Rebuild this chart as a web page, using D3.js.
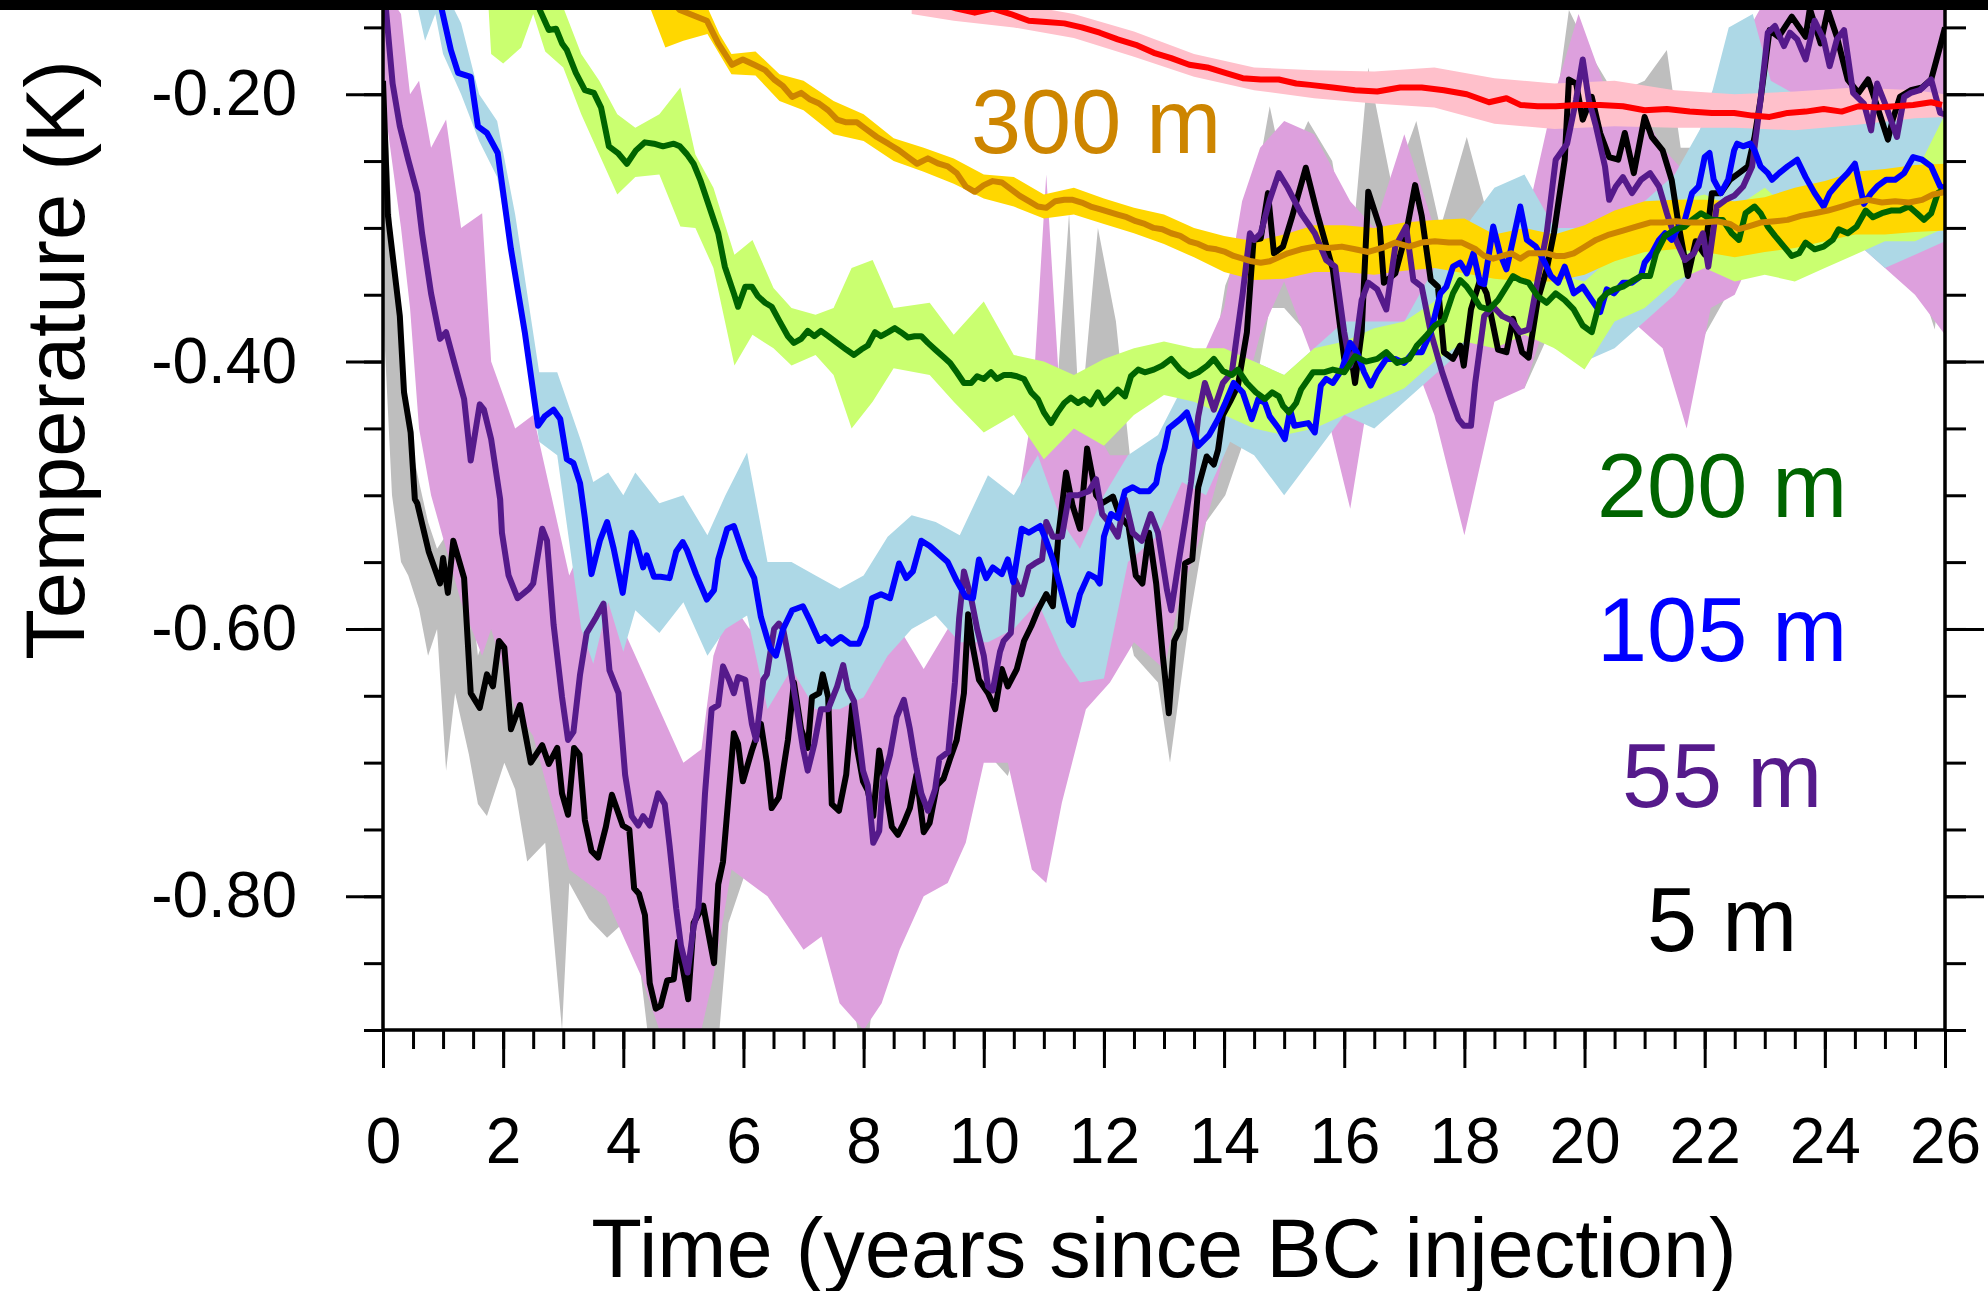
<!DOCTYPE html>
<html>
<head>
<meta charset="utf-8">
<script src="https://cdn.jsdelivr.net/npm/d3@7"></script>
<style>
body { margin: 0; background: #fff; }
svg text { font-family: "Liberation Sans", Arial, Helvetica, sans-serif; }
</style>
</head>
<body>
<div id="plot1"></div>
<script>
// depth labels
var depths = ["5 m", "55 m", "105 m", "200 m", "300 m"];

// ensemble mean lines, [years, K]
var line5m = [[0,-0.19],[0.04,-0.24],[0.08,-0.29],[0.28,-0.366],[0.35,-0.423],[0.46,-0.453],[0.53,-0.503],[0.57,-0.506],[0.76,-0.542],[0.95,-0.566],[1.0,-0.547],[1.08,-0.573],[1.17,-0.534],[1.35,-0.562],[1.46,-0.648],[1.61,-0.659],[1.73,-0.634],[1.83,-0.643],[1.93,-0.609],[2.02,-0.614],[2.13,-0.675],[2.28,-0.657],[2.46,-0.70],[2.65,-0.687],[2.76,-0.701],[2.9,-0.689],[2.98,-0.723],[3.08,-0.739],[3.18,-0.689],[3.27,-0.694],[3.36,-0.743],[3.47,-0.766],[3.58,-0.771],[3.71,-0.748],[3.81,-0.724],[3.99,-0.747],[4.1,-0.75],[4.18,-0.794],[4.26,-0.798],[4.36,-0.814],[4.44,-0.865],[4.54,-0.884],[4.62,-0.882],[4.73,-0.863],[4.84,-0.862],[4.91,-0.834],[4.99,-0.854],[5.08,-0.877],[5.17,-0.82],[5.33,-0.807],[5.51,-0.85],[5.58,-0.791],[5.66,-0.774],[5.84,-0.678],[5.91,-0.686],[5.99,-0.714],[6.14,-0.691],[6.29,-0.671],[6.39,-0.70],[6.47,-0.734],[6.59,-0.726],[6.74,-0.683],[6.84,-0.64],[6.96,-0.675],[7.07,-0.689],[7.14,-0.651],[7.26,-0.648],[7.32,-0.634],[7.41,-0.651],[7.47,-0.731],[7.59,-0.736],[7.71,-0.709],[7.81,-0.657],[7.89,-0.689],[7.99,-0.714],[8.07,-0.721],[8.16,-0.74],[8.26,-0.691],[8.37,-0.72],[8.47,-0.748],[8.57,-0.754],[8.67,-0.745],[8.77,-0.734],[8.88,-0.709],[9.0,-0.752],[9.1,-0.745],[9.22,-0.717],[9.33,-0.712],[9.44,-0.697],[9.55,-0.683],[9.67,-0.648],[9.74,-0.589],[9.82,-0.614],[9.92,-0.638],[10.07,-0.648],[10.19,-0.66],[10.3,-0.63],[10.4,-0.643],[10.55,-0.63],[10.67,-0.609],[10.79,-0.598],[10.9,-0.586],[11.04,-0.574],[11.15,-0.583],[11.24,-0.531],[11.37,-0.483],[11.48,-0.508],[11.6,-0.525],[11.72,-0.465],[11.87,-0.5],[11.97,-0.506],[12.15,-0.501],[12.26,-0.515],[12.41,-0.523],[12.53,-0.56],[12.64,-0.566],[12.75,-0.528],[12.87,-0.566],[12.98,-0.62],[13.08,-0.663],[13.17,-0.609],[13.27,-0.60],[13.35,-0.551],[13.47,-0.548],[13.57,-0.494],[13.71,-0.471],[13.83,-0.477],[13.9,-0.466],[13.98,-0.44],[14.1,-0.43],[14.23,-0.418],[14.38,-0.378],[14.49,-0.309],[14.61,-0.308],[14.73,-0.274],[14.83,-0.319],[14.98,-0.314],[15.13,-0.292],[15.36,-0.255],[15.55,-0.289],[15.81,-0.331],[16.0,-0.398],[16.1,-0.391],[16.18,-0.416],[16.29,-0.378],[16.4,-0.273],[16.59,-0.299],[16.66,-0.341],[16.85,-0.334],[17.03,-0.304],[17.18,-0.268],[17.29,-0.291],[17.44,-0.339],[17.56,-0.344],[17.66,-0.393],[17.81,-0.398],[17.93,-0.388],[17.99,-0.403],[18.11,-0.361],[18.26,-0.339],[18.37,-0.349],[18.56,-0.391],[18.7,-0.393],[18.81,-0.368],[18.96,-0.393],[19.07,-0.397],[19.22,-0.354],[19.37,-0.331],[19.49,-0.304],[19.67,-0.249],[19.74,-0.189],[19.86,-0.192],[19.97,-0.219],[20.12,-0.202],[20.26,-0.229],[20.41,-0.247],[20.56,-0.249],[20.67,-0.229],[20.82,-0.259],[21.0,-0.217],[21.12,-0.232],[21.3,-0.242],[21.45,-0.264],[21.57,-0.299],[21.72,-0.336],[21.85,-0.31],[22.0,-0.32],[22.12,-0.274],[22.27,-0.274],[22.42,-0.264],[22.57,-0.259],[22.72,-0.254],[22.83,-0.232],[22.93,-0.204],[23.08,-0.152],[23.23,-0.157],[23.45,-0.142],[23.68,-0.157],[23.75,-0.136],[23.93,-0.162],[24.05,-0.137],[24.2,-0.157],[24.38,-0.189],[24.56,-0.199],[24.72,-0.189],[24.87,-0.209],[25.05,-0.234],[25.13,-0.219],[25.25,-0.202],[25.43,-0.197],[25.62,-0.195],[25.77,-0.189],[25.92,-0.164],[26.0,-0.15]];

var line55m = [[0,-0.12],[0.05,-0.137],[0.16,-0.192],[0.28,-0.224],[0.42,-0.249],[0.57,-0.274],[0.65,-0.304],[0.8,-0.349],[0.95,-0.383],[1.05,-0.378],[1.2,-0.403],[1.35,-0.428],[1.46,-0.474],[1.61,-0.432],[1.68,-0.436],[1.8,-0.458],[1.95,-0.503],[1.98,-0.528],[2.09,-0.56],[2.24,-0.577],[2.43,-0.57],[2.5,-0.566],[2.65,-0.525],[2.73,-0.534],[2.84,-0.597],[2.98,-0.651],[3.08,-0.683],[3.17,-0.677],[3.28,-0.634],[3.39,-0.603],[3.55,-0.591],[3.67,-0.581],[3.77,-0.631],[3.92,-0.648],[4.03,-0.709],[4.14,-0.74],[4.25,-0.747],[4.33,-0.74],[4.44,-0.747],[4.58,-0.723],[4.69,-0.731],[4.77,-0.762],[4.88,-0.809],[4.96,-0.837],[5.07,-0.857],[5.17,-0.823],[5.25,-0.809],[5.36,-0.723],[5.47,-0.66],[5.58,-0.657],[5.66,-0.628],[5.76,-0.638],[5.84,-0.648],[5.91,-0.636],[6.03,-0.638],[6.14,-0.671],[6.21,-0.683],[6.33,-0.638],[6.39,-0.634],[6.51,-0.60],[6.59,-0.596],[6.66,-0.60],[6.77,-0.626],[6.87,-0.654],[6.99,-0.689],[7.07,-0.706],[7.18,-0.686],[7.29,-0.66],[7.41,-0.66],[7.56,-0.643],[7.66,-0.627],[7.74,-0.645],[7.84,-0.654],[7.92,-0.68],[7.99,-0.706],[8.07,-0.717],[8.16,-0.76],[8.26,-0.751],[8.32,-0.714],[8.44,-0.694],[8.55,-0.666],[8.67,-0.653],[8.77,-0.675],[8.85,-0.697],[8.96,-0.723],[9.07,-0.736],[9.19,-0.72],[9.26,-0.697],[9.41,-0.692],[9.52,-0.64],[9.59,-0.592],[9.67,-0.557],[9.79,-0.577],[9.89,-0.60],[10.0,-0.62],[10.07,-0.643],[10.15,-0.646],[10.27,-0.617],[10.33,-0.609],[10.45,-0.603],[10.52,-0.563],[10.63,-0.574],[10.75,-0.554],[10.85,-0.551],[10.97,-0.548],[11.04,-0.52],[11.15,-0.531],[11.3,-0.531],[11.42,-0.50],[11.57,-0.50],[11.75,-0.497],[11.87,-0.488],[11.97,-0.514],[12.08,-0.52],[12.23,-0.531],[12.35,-0.503],[12.48,-0.528],[12.63,-0.534],[12.78,-0.514],[12.9,-0.528],[13.05,-0.571],[13.12,-0.586],[13.23,-0.554],[13.35,-0.52],[13.45,-0.49],[13.57,-0.441],[13.68,-0.416],[13.83,-0.436],[13.98,-0.416],[14.13,-0.408],[14.31,-0.349],[14.43,-0.304],[14.5,-0.309],[14.61,-0.304],[14.76,-0.279],[14.91,-0.259],[15.06,-0.27],[15.28,-0.289],[15.51,-0.304],[15.7,-0.324],[15.85,-0.329],[16.0,-0.378],[16.1,-0.403],[16.18,-0.391],[16.29,-0.354],[16.4,-0.341],[16.55,-0.346],[16.7,-0.361],[16.85,-0.314],[17.03,-0.299],[17.15,-0.339],[17.29,-0.344],[17.44,-0.378],[17.63,-0.408],[17.78,-0.428],[17.9,-0.443],[17.99,-0.448],[18.11,-0.448],[18.18,-0.416],[18.33,-0.366],[18.48,-0.359],[18.63,-0.366],[18.78,-0.369],[18.93,-0.378],[19.07,-0.376],[19.22,-0.339],[19.37,-0.304],[19.52,-0.249],[19.71,-0.237],[19.86,-0.204],[19.97,-0.174],[20.07,-0.204],[20.19,-0.224],[20.34,-0.254],[20.41,-0.279],[20.52,-0.269],[20.64,-0.262],[20.79,-0.274],[20.94,-0.264],[21.09,-0.259],[21.24,-0.269],[21.37,-0.289],[21.52,-0.309],[21.67,-0.324],[21.82,-0.319],[21.97,-0.304],[22.06,-0.329],[22.2,-0.284],[22.35,-0.279],[22.49,-0.276],[22.64,-0.269],[22.79,-0.254],[22.93,-0.204],[23.05,-0.154],[23.17,-0.149],[23.32,-0.164],[23.42,-0.154],[23.54,-0.159],[23.68,-0.174],[23.83,-0.145],[23.98,-0.159],[24.08,-0.179],[24.2,-0.159],[24.32,-0.152],[24.47,-0.199],[24.65,-0.207],[24.77,-0.227],[24.87,-0.192],[25.02,-0.209],[25.2,-0.232],[25.32,-0.202],[25.43,-0.199],[25.58,-0.197],[25.77,-0.189],[25.92,-0.214],[26.0,-0.215]];

var line105m = [[0.95,-0.12],[0.98,-0.137],[1.13,-0.167],[1.25,-0.184],[1.46,-0.187],[1.58,-0.224],[1.73,-0.229],[1.91,-0.244],[2.13,-0.316],[2.36,-0.378],[2.58,-0.448],[2.69,-0.441],[2.84,-0.436],[2.95,-0.443],[3.06,-0.473],[3.17,-0.476],[3.28,-0.491],[3.36,-0.517],[3.47,-0.559],[3.61,-0.534],[3.73,-0.52],[3.84,-0.54],[3.99,-0.573],[4.14,-0.528],[4.21,-0.534],[4.33,-0.554],[4.39,-0.545],[4.51,-0.561],[4.62,-0.561],[4.77,-0.562],[4.88,-0.542],[4.99,-0.535],[5.06,-0.541],[5.21,-0.559],[5.39,-0.578],[5.51,-0.571],[5.58,-0.548],[5.73,-0.525],[5.84,-0.523],[6.03,-0.548],[6.18,-0.562],[6.29,-0.591],[6.44,-0.614],[6.54,-0.62],[6.66,-0.60],[6.81,-0.586],[6.99,-0.583],[7.11,-0.594],[7.26,-0.609],[7.36,-0.606],[7.47,-0.611],[7.62,-0.606],[7.77,-0.611],[7.92,-0.611],[8.04,-0.598],[8.14,-0.577],[8.29,-0.574],[8.44,-0.577],[8.59,-0.551],[8.71,-0.562],[8.82,-0.557],[8.96,-0.534],[9.1,-0.538],[9.25,-0.544],[9.4,-0.55],[9.55,-0.564],[9.7,-0.576],[9.82,-0.577],[9.92,-0.548],[10.04,-0.562],[10.15,-0.554],[10.3,-0.559],[10.4,-0.548],[10.49,-0.565],[10.63,-0.525],[10.75,-0.528],[10.94,-0.523],[11.04,-0.534],[11.15,-0.548],[11.27,-0.568],[11.42,-0.594],[11.48,-0.597],[11.6,-0.574],[11.75,-0.559],[11.87,-0.562],[11.93,-0.566],[12.0,-0.531],[12.12,-0.514],[12.23,-0.517],[12.35,-0.497],[12.48,-0.494],[12.6,-0.497],[12.75,-0.497],[12.87,-0.491],[12.93,-0.477],[13.01,-0.465],[13.08,-0.45],[13.27,-0.443],[13.38,-0.438],[13.57,-0.463],[13.75,-0.455],[13.9,-0.443],[14.02,-0.431],[14.16,-0.416],[14.31,-0.423],[14.46,-0.443],[14.57,-0.428],[14.68,-0.431],[14.76,-0.441],[14.91,-0.45],[15.01,-0.458],[15.1,-0.436],[15.17,-0.448],[15.4,-0.446],[15.51,-0.453],[15.61,-0.418],[15.7,-0.413],[15.81,-0.416],[15.96,-0.406],[16.1,-0.386],[16.21,-0.393],[16.33,-0.408],[16.44,-0.418],[16.55,-0.408],[16.7,-0.398],[16.85,-0.398],[17.0,-0.401],[17.15,-0.393],[17.29,-0.393],[17.44,-0.378],[17.6,-0.349],[17.7,-0.344],[17.81,-0.329],[17.93,-0.326],[18.04,-0.334],[18.15,-0.319],[18.26,-0.341],[18.33,-0.342],[18.48,-0.299],[18.59,-0.319],[18.7,-0.331],[18.81,-0.309],[18.93,-0.284],[19.04,-0.309],[19.19,-0.314],[19.34,-0.326],[19.44,-0.336],[19.56,-0.341],[19.67,-0.329],[19.82,-0.349],[19.97,-0.344],[20.12,-0.354],[20.26,-0.363],[20.37,-0.346],[20.49,-0.349],[20.64,-0.341],[20.79,-0.341],[20.94,-0.336],[21.0,-0.326],[21.12,-0.319],[21.24,-0.309],[21.34,-0.304],[21.45,-0.309],[21.57,-0.299],[21.67,-0.294],[21.79,-0.274],[21.9,-0.269],[22.0,-0.247],[22.08,-0.244],[22.15,-0.264],[22.27,-0.274],[22.39,-0.264],[22.49,-0.242],[22.54,-0.237],[22.64,-0.239],[22.76,-0.237],[22.83,-0.242],[22.93,-0.254],[23.05,-0.259],[23.12,-0.264],[23.24,-0.259],[23.38,-0.254],[23.54,-0.249],[23.68,-0.262],[23.83,-0.274],[23.98,-0.284],[24.08,-0.274],[24.23,-0.266],[24.38,-0.259],[24.5,-0.252],[24.65,-0.282],[24.77,-0.274],[24.87,-0.269],[25.02,-0.264],[25.17,-0.264],[25.32,-0.259],[25.47,-0.247],[25.62,-0.249],[25.77,-0.254],[25.92,-0.269],[26.0,-0.27]];

var line200m = [[2.55,-0.12],[2.61,-0.137],[2.76,-0.152],[2.88,-0.151],[2.98,-0.162],[3.06,-0.167],[3.21,-0.184],[3.36,-0.197],[3.51,-0.199],[3.63,-0.21],[3.76,-0.239],[3.91,-0.244],[4.06,-0.252],[4.21,-0.242],[4.36,-0.236],[4.51,-0.237],[4.66,-0.239],[4.84,-0.237],[4.94,-0.239],[5.06,-0.245],[5.17,-0.252],[5.28,-0.264],[5.43,-0.284],[5.58,-0.304],[5.69,-0.329],[5.84,-0.349],[5.91,-0.359],[6.03,-0.344],[6.14,-0.344],[6.24,-0.351],[6.36,-0.356],[6.47,-0.359],[6.59,-0.369],[6.74,-0.381],[6.84,-0.386],[6.96,-0.383],[7.07,-0.377],[7.18,-0.381],[7.29,-0.377],[7.41,-0.381],[7.56,-0.386],[7.71,-0.391],[7.84,-0.395],[7.96,-0.391],[8.07,-0.388],[8.19,-0.378],[8.29,-0.381],[8.41,-0.378],[8.52,-0.375],[8.62,-0.378],[8.74,-0.382],[8.85,-0.381],[8.96,-0.381],[9.07,-0.386],[9.19,-0.391],[9.34,-0.397],[9.44,-0.401],[9.55,-0.408],[9.67,-0.416],[9.79,-0.416],[9.89,-0.411],[10.0,-0.413],[10.12,-0.408],[10.22,-0.413],[10.34,-0.41],[10.45,-0.41],[10.55,-0.411],[10.67,-0.413],[10.79,-0.423],[10.9,-0.428],[11.0,-0.438],[11.12,-0.446],[11.23,-0.438],[11.34,-0.431],[11.45,-0.427],[11.57,-0.431],[11.67,-0.428],[11.78,-0.432],[11.9,-0.423],[12.0,-0.431],[12.12,-0.426],[12.23,-0.421],[12.35,-0.426],[12.45,-0.411],[12.57,-0.406],[12.68,-0.408],[12.83,-0.406],[12.97,-0.403],[13.12,-0.398],[13.27,-0.406],[13.42,-0.411],[13.57,-0.408],[13.72,-0.403],[13.83,-0.398],[13.98,-0.407],[14.13,-0.41],[14.23,-0.406],[14.38,-0.416],[14.53,-0.423],[14.68,-0.428],[14.8,-0.423],[14.91,-0.426],[14.98,-0.433],[15.08,-0.438],[15.2,-0.431],[15.28,-0.421],[15.48,-0.408],[15.66,-0.408],[15.81,-0.406],[16.0,-0.408],[16.18,-0.396],[16.36,-0.4],[16.55,-0.398],[16.7,-0.393],[16.88,-0.401],[17.08,-0.398],[17.21,-0.388],[17.36,-0.381],[17.51,-0.373],[17.66,-0.369],[17.81,-0.349],[17.93,-0.339],[18.04,-0.344],[18.15,-0.351],[18.26,-0.359],[18.41,-0.361],[18.56,-0.354],[18.7,-0.344],[18.81,-0.336],[18.93,-0.339],[19.07,-0.341],[19.22,-0.351],[19.37,-0.356],[19.52,-0.349],[19.67,-0.354],[19.82,-0.361],[19.97,-0.373],[20.12,-0.378],[20.26,-0.354],[20.37,-0.349],[20.49,-0.346],[20.64,-0.344],[20.82,-0.339],[20.94,-0.336],[21.09,-0.336],[21.19,-0.319],[21.34,-0.306],[21.52,-0.301],[21.67,-0.299],[21.79,-0.294],[21.94,-0.289],[22.12,-0.294],[22.3,-0.294],[22.45,-0.304],[22.57,-0.309],[22.68,-0.289],[22.83,-0.284],[22.93,-0.289],[23.05,-0.299],[23.17,-0.306],[23.32,-0.314],[23.45,-0.321],[23.57,-0.319],[23.68,-0.311],[23.83,-0.316],[23.98,-0.314],[24.13,-0.309],[24.23,-0.301],[24.38,-0.304],[24.53,-0.299],[24.68,-0.287],[24.8,-0.292],[24.95,-0.289],[25.1,-0.287],[25.25,-0.287],[25.4,-0.284],[25.53,-0.289],[25.65,-0.294],[25.77,-0.289],[25.88,-0.274],[25.95,-0.272]];

var line300m = [[4.6,-0.12],[4.94,-0.137],[5.39,-0.145],[5.58,-0.162],[5.81,-0.178],[5.99,-0.174],[6.18,-0.178],[6.36,-0.182],[6.51,-0.189],[6.66,-0.194],[6.81,-0.202],[6.96,-0.199],[7.11,-0.204],[7.26,-0.207],[7.41,-0.212],[7.56,-0.219],[7.71,-0.221],[7.89,-0.221],[8.07,-0.227],[8.22,-0.232],[8.41,-0.237],[8.59,-0.242],[8.74,-0.247],[8.89,-0.252],[9.07,-0.248],[9.25,-0.252],[9.4,-0.254],[9.55,-0.259],[9.7,-0.269],[9.85,-0.273],[10.0,-0.268],[10.15,-0.265],[10.3,-0.266],[10.45,-0.271],[10.6,-0.276],[10.75,-0.28],[10.9,-0.284],[11.04,-0.285],[11.19,-0.28],[11.34,-0.279],[11.48,-0.279],[11.63,-0.281],[11.78,-0.284],[11.93,-0.286],[12.08,-0.288],[12.23,-0.29],[12.38,-0.292],[12.53,-0.295],[12.68,-0.297],[12.83,-0.30],[12.97,-0.301],[13.12,-0.304],[13.27,-0.306],[13.42,-0.31],[13.57,-0.312],[13.72,-0.315],[13.87,-0.316],[14.02,-0.318],[14.16,-0.321],[14.31,-0.323],[14.46,-0.325],[14.61,-0.326],[14.76,-0.325],[14.91,-0.322],[15.06,-0.319],[15.28,-0.316],[15.51,-0.314],[15.73,-0.315],[15.96,-0.314],[16.18,-0.316],[16.4,-0.318],[16.63,-0.315],[16.85,-0.311],[17.08,-0.314],[17.29,-0.311],[17.51,-0.31],[17.74,-0.311],[17.96,-0.311],[18.19,-0.316],[18.33,-0.321],[18.48,-0.323],[18.63,-0.321],[18.78,-0.319],[18.93,-0.323],[19.07,-0.319],[19.22,-0.319],[19.37,-0.319],[19.52,-0.321],[19.67,-0.321],[19.82,-0.319],[19.97,-0.315],[20.19,-0.309],[20.41,-0.305],[20.64,-0.302],[20.86,-0.299],[21.09,-0.296],[21.3,-0.296],[21.52,-0.295],[21.75,-0.296],[21.97,-0.296],[22.2,-0.295],[22.42,-0.297],[22.57,-0.301],[22.72,-0.299],[22.93,-0.296],[23.17,-0.295],[23.38,-0.294],[23.6,-0.291],[23.83,-0.289],[24.05,-0.287],[24.28,-0.284],[24.5,-0.281],[24.72,-0.279],[24.95,-0.281],[25.17,-0.28],[25.4,-0.281],[25.62,-0.279],[25.8,-0.275],[25.92,-0.274],[26.0,-0.273]];

var lineDeep = [[8.6,-0.12],[9.0,-0.128],[9.55,-0.136],[9.85,-0.139],[10.15,-0.136],[10.45,-0.14],[10.75,-0.145],[11.04,-0.146],[11.34,-0.147],[11.63,-0.15],[11.93,-0.154],[12.23,-0.159],[12.53,-0.163],[12.83,-0.169],[13.12,-0.173],[13.42,-0.178],[13.72,-0.18],[14.02,-0.184],[14.31,-0.188],[14.61,-0.189],[14.91,-0.189],[15.2,-0.192],[15.43,-0.193],[15.81,-0.195],[16.18,-0.197],[16.55,-0.198],[16.93,-0.195],[17.29,-0.195],[17.66,-0.197],[18.04,-0.2],[18.41,-0.206],[18.7,-0.203],[18.93,-0.208],[19.22,-0.209],[19.52,-0.209],[19.89,-0.208],[20.26,-0.208],[20.64,-0.209],[21.0,-0.212],[21.37,-0.211],[21.75,-0.213],[22.12,-0.214],[22.49,-0.214],[22.79,-0.216],[23.08,-0.217],[23.38,-0.214],[23.68,-0.213],[23.98,-0.211],[24.28,-0.213],[24.56,-0.209],[24.87,-0.21],[25.17,-0.209],[25.47,-0.208],[25.77,-0.206],[25.95,-0.208]];

// ensemble spread, [years, low K, high K]
var band5m = [[0.0,-0.36,-0.15],[0.15,-0.5,-0.3],[0.3,-0.55,-0.4],[0.42,-0.56,-0.45],[0.6,-0.585,-0.49],[0.75,-0.62,-0.52],[0.9,-0.6,-0.54],[1.05,-0.706,-0.53],[1.2,-0.648,-0.53],[1.43,-0.694,-0.56],[1.58,-0.731,-0.62],[1.73,-0.74,-0.6],[2.02,-0.7,-0.58],[2.2,-0.72,-0.62],[2.4,-0.774,-0.65],[2.7,-0.76,-0.66],[2.98,-0.9,-0.68],[3.1,-0.79,-0.68],[3.43,-0.817,-0.7],[3.73,-0.831,-0.72],[4.0,-0.82,-0.72],[4.25,-0.843,-0.76],[4.4,-0.9,-0.78],[4.6,-0.9,-0.84],[5.0,-0.9,-0.8],[5.3,-0.9,-0.78],[5.6,-0.9,-0.76],[5.75,-0.82,-0.66],[5.9,-0.8,-0.63],[6.2,-0.76,-0.6],[6.5,-0.77,-0.64],[6.8,-0.73,-0.59],[7.1,-0.76,-0.6],[7.4,-0.79,-0.6],[7.7,-0.84,-0.64],[7.9,-0.9,-0.66],[8.1,-0.9,-0.68],[8.3,-0.8,-0.66],[8.6,-0.79,-0.7],[9.0,-0.78,-0.7],[9.3,-0.76,-0.66],[9.6,-0.72,-0.6],[10.0,-0.69,-0.59],[10.4,-0.71,-0.59],[10.8,-0.65,-0.55],[11.1,-0.66,-0.5],[11.42,-0.6,-0.289],[11.6,-0.56,-0.45],[11.9,-0.55,-0.3],[12.2,-0.56,-0.37],[12.5,-0.62,-0.5],[12.9,-0.64,-0.52],[13.1,-0.7,-0.57],[13.4,-0.6,-0.5],[13.7,-0.52,-0.43],[14.02,-0.5,-0.343],[14.4,-0.45,-0.3],[14.76,-0.36,-0.209],[15.0,-0.36,-0.26],[15.4,-0.38,-0.22],[15.8,-0.39,-0.25],[16.1,-0.46,-0.33],[16.4,-0.42,-0.18],[16.8,-0.38,-0.27],[17.2,-0.36,-0.22],[17.6,-0.43,-0.3],[18.04,-0.43,-0.232],[18.5,-0.42,-0.31],[19.0,-0.42,-0.3],[19.4,-0.38,-0.25],[19.74,-0.33,-0.137],[20.1,-0.28,-0.17],[20.5,-0.3,-0.2],[21.0,-0.29,-0.19],[21.37,-0.36,-0.167],[21.6,-0.421,-0.24],[22.0,-0.38,-0.24],[22.5,-0.34,-0.19],[23.0,-0.28,-0.13],[23.5,-0.2,-0.13],[24.0,-0.22,-0.13],[24.7,-0.3,-0.13],[25.2,-0.3,-0.18],[25.5,-0.33,-0.17],[25.83,-0.376,-0.15],[26.0,-0.3,-0.14]];

var band55m = [[0.0,-0.2,-0.12],[0.3,-0.3,-0.14],[0.45,-0.36,-0.2],[0.6,-0.45,-0.19],[0.8,-0.5,-0.24],[1.05,-0.54,-0.219],[1.3,-0.58,-0.3],[1.65,-0.62,-0.289],[1.8,-0.6,-0.4],[2.2,-0.66,-0.45],[2.5,-0.68,-0.44],[2.8,-0.73,-0.5],[3.1,-0.78,-0.56],[3.4,-0.79,-0.53],[3.7,-0.8,-0.56],[4.0,-0.83,-0.6],[4.3,-0.86,-0.63],[4.6,-0.9,-0.66],[5.0,-0.9,-0.7],[5.3,-0.9,-0.69],[5.5,-0.86,-0.62],[5.8,-0.78,-0.58],[6.1,-0.79,-0.6],[6.4,-0.8,-0.55],[6.7,-0.82,-0.56],[7.0,-0.84,-0.6],[7.3,-0.83,-0.58],[7.6,-0.88,-0.6],[8.0,-0.9,-0.64],[8.3,-0.88,-0.62],[8.6,-0.84,-0.6],[9.0,-0.8,-0.63],[9.4,-0.79,-0.6],[9.7,-0.76,-0.55],[10.0,-0.7,-0.57],[10.4,-0.7,-0.55],[10.8,-0.78,-0.44],[11.04,-0.79,-0.26],[11.3,-0.73,-0.45],[11.7,-0.66,-0.44],[12.1,-0.64,-0.47],[12.5,-0.61,-0.47],[13.0,-0.63,-0.5],[13.3,-0.57,-0.42],[13.7,-0.52,-0.39],[14.0,-0.47,-0.36],[14.3,-0.43,-0.28],[14.6,-0.38,-0.24],[15.0,-0.34,-0.22],[15.5,-0.4,-0.23],[16.1,-0.51,-0.28],[16.5,-0.4,-0.3],[17.0,-0.38,-0.23],[17.5,-0.44,-0.3],[18.0,-0.53,-0.32],[18.5,-0.43,-0.3],[19.0,-0.42,-0.3],[19.5,-0.35,-0.2],[19.9,-0.3,-0.14],[20.3,-0.35,-0.19],[20.8,-0.37,-0.2],[21.3,-0.39,-0.24],[21.7,-0.45,-0.26],[22.1,-0.36,-0.2],[22.5,-0.35,-0.17],[23.0,-0.3,-0.13],[23.5,-0.28,-0.13],[24.0,-0.3,-0.13],[24.5,-0.31,-0.13],[25.0,-0.33,-0.13],[25.5,-0.35,-0.13],[26.0,-0.38,-0.13]];

var band105m = [[0.55,-0.13,-0.12],[0.7,-0.16,-0.12],[0.87,-0.14,-0.12],[1.0,-0.17,-0.12],[1.3,-0.2,-0.147],[1.6,-0.235,-0.2],[1.9,-0.262,-0.22],[2.2,-0.34,-0.29],[2.6,-0.46,-0.408],[2.9,-0.47,-0.408],[3.3,-0.6,-0.46],[3.5,-0.626,-0.49],[3.75,-0.58,-0.483],[4.0,-0.617,-0.5],[4.2,-0.586,-0.483],[4.6,-0.603,-0.506],[5.0,-0.58,-0.5],[5.4,-0.62,-0.53],[5.7,-0.6,-0.5],[6.06,-0.59,-0.468],[6.4,-0.66,-0.55],[6.8,-0.63,-0.55],[7.2,-0.66,-0.56],[7.6,-0.66,-0.57],[8.0,-0.651,-0.56],[8.4,-0.62,-0.531],[8.8,-0.6,-0.515],[9.2,-0.59,-0.52],[9.6,-0.61,-0.53],[10.07,-0.61,-0.485],[10.5,-0.6,-0.5],[10.9,-0.58,-0.47],[11.3,-0.62,-0.52],[11.6,-0.64,-0.54],[12.0,-0.637,-0.5],[12.4,-0.55,-0.47],[12.9,-0.53,-0.455],[13.3,-0.49,-0.42],[13.7,-0.5,-0.42],[14.1,-0.46,-0.395],[14.5,-0.47,-0.4],[15.0,-0.5,-0.41],[15.5,-0.47,-0.39],[16.0,-0.44,-0.37],[16.5,-0.45,-0.37],[17.0,-0.43,-0.37],[17.5,-0.41,-0.33],[18.0,-0.39,-0.3],[18.5,-0.37,-0.27],[19.0,-0.36,-0.26],[19.5,-0.39,-0.3],[20.0,-0.4,-0.3],[20.5,-0.39,-0.3],[21.0,-0.37,-0.28],[21.5,-0.35,-0.26],[22.0,-0.32,-0.22],[22.4,-0.3,-0.15],[22.8,-0.29,-0.14],[23.1,-0.31,-0.19],[23.5,-0.32,-0.2],[24.0,-0.32,-0.22],[24.5,-0.31,-0.21],[25.0,-0.33,-0.22],[25.5,-0.32,-0.2],[26.0,-0.31,-0.22]];

var band200m = [[1.75,-0.13,-0.12],[1.8,-0.17,-0.12],[2.0,-0.177,-0.12],[2.3,-0.165,-0.12],[2.5,-0.14,-0.12],[2.7,-0.168,-0.12],[3.0,-0.18,-0.135],[3.3,-0.215,-0.17],[3.6,-0.245,-0.19],[3.9,-0.275,-0.215],[4.2,-0.262,-0.225],[4.6,-0.26,-0.215],[4.95,-0.299,-0.195],[5.2,-0.3,-0.245],[5.5,-0.33,-0.27],[5.85,-0.403,-0.32],[6.15,-0.38,-0.309],[6.5,-0.39,-0.345],[6.8,-0.403,-0.36],[7.2,-0.395,-0.365],[7.5,-0.41,-0.36],[7.8,-0.45,-0.33],[8.15,-0.43,-0.324],[8.5,-0.405,-0.36],[9.1,-0.41,-0.356],[9.5,-0.43,-0.38],[10.0,-0.453,-0.355],[10.5,-0.44,-0.395],[11.0,-0.473,-0.4],[11.5,-0.45,-0.41],[12.0,-0.463,-0.398],[12.5,-0.44,-0.39],[13.0,-0.425,-0.385],[13.5,-0.43,-0.39],[14.0,-0.44,-0.39],[14.5,-0.45,-0.4],[15.0,-0.455,-0.41],[15.5,-0.45,-0.39],[16.0,-0.44,-0.385],[16.5,-0.43,-0.375],[17.0,-0.42,-0.37],[17.5,-0.4,-0.355],[18.0,-0.385,-0.32],[18.5,-0.39,-0.335],[19.0,-0.38,-0.33],[19.5,-0.39,-0.335],[20.0,-0.406,-0.34],[20.5,-0.37,-0.32],[21.0,-0.36,-0.31],[21.5,-0.34,-0.28],[22.0,-0.33,-0.275],[22.5,-0.34,-0.285],[23.0,-0.335,-0.27],[23.5,-0.34,-0.29],[24.0,-0.33,-0.285],[24.5,-0.32,-0.265],[25.0,-0.31,-0.26],[25.5,-0.31,-0.26],[26.0,-0.3,-0.215]];

var band300m = [[4.4,-0.13,-0.12],[4.7,-0.165,-0.12],[5.0,-0.16,-0.12],[5.4,-0.155,-0.135],[5.6,-0.17,-0.155],[5.8,-0.185,-0.17],[6.2,-0.186,-0.168],[6.6,-0.205,-0.185],[7.0,-0.212,-0.19],[7.5,-0.23,-0.205],[8.0,-0.235,-0.215],[8.5,-0.25,-0.233],[9.0,-0.258,-0.24],[9.5,-0.267,-0.248],[10.0,-0.278,-0.26],[10.5,-0.284,-0.262],[11.0,-0.293,-0.275],[11.5,-0.29,-0.27],[12.0,-0.297,-0.278],[12.5,-0.304,-0.285],[13.0,-0.312,-0.29],[13.5,-0.322,-0.3],[14.0,-0.333,-0.306],[14.5,-0.339,-0.31],[15.0,-0.338,-0.305],[15.5,-0.333,-0.298],[16.0,-0.333,-0.298],[16.5,-0.335,-0.3],[17.0,-0.332,-0.296],[17.5,-0.33,-0.294],[18.0,-0.334,-0.293],[18.5,-0.338,-0.305],[19.0,-0.34,-0.3],[19.5,-0.34,-0.305],[20.0,-0.335,-0.298],[20.5,-0.325,-0.287],[21.0,-0.318,-0.28],[21.5,-0.316,-0.279],[22.0,-0.318,-0.279],[22.5,-0.322,-0.28],[23.0,-0.318,-0.277],[23.5,-0.315,-0.27],[24.0,-0.31,-0.265],[24.5,-0.305,-0.258],[25.0,-0.305,-0.256],[25.5,-0.303,-0.253],[26.0,-0.302,-0.252]];

var bandDeep = [[8.8,-0.14,-0.12],[9.5,-0.145,-0.13],[10.5,-0.15,-0.132],[11.5,-0.158,-0.14],[12.5,-0.172,-0.153],[13.5,-0.187,-0.17],[14.5,-0.197,-0.18],[15.5,-0.203,-0.182],[16.5,-0.207,-0.183],[17.5,-0.21,-0.18],[18.5,-0.222,-0.188],[19.5,-0.226,-0.192],[20.5,-0.224,-0.19],[21.5,-0.225,-0.197],[22.5,-0.225,-0.2],[23.5,-0.227,-0.198],[24.5,-0.223,-0.195],[25.5,-0.218,-0.197],[26.0,-0.217,-0.2]];

var yMajor = [-0.8, -0.6, -0.4, -0.2];
var xMajor = d3.range(0, 27, 2);

var lineColors = ["#000000", "#551A8B", "#0000FF", "#006400", "#CD8500", "#FF0000"];
var bandColors = ["#BEBEBE", "#DDA0DD", "#ADD8E6", "#CAFF70", "#FFD700", "#FFC0CB"];

var font = '"Liberation Sans", Arial, Helvetica, sans-serif';

// layout
var margin = {t: 10, r: 43, b: 261, l: 383};
var totalW = 1988, totalH = 1291;
var width = totalW - margin.l - margin.r,
    height = totalH - margin.t - margin.b;

var x = d3.scaleLinear().domain([0, 26]).range([0, width]);
var y = d3.scaleLinear().domain([-0.9, -0.137]).range([height, 0]);

var svg = d3.select('#plot1').append('svg')
    .attr('width', totalW)
    .attr('height', totalH);

svg.append('rect').attr('width', totalW).attr('height', totalH).attr('fill', '#fff');

var plot = svg.append('g').attr('transform', 'translate(' + margin.l + ',' + margin.t + ')');

plot.append('clipPath').attr('id', 'clip')
    .append('rect').attr('width', width).attr('height', height);

var inner = plot.append('g').attr('clip-path', 'url(#clip)');

var area = d3.area()
    .x(function(d){ return x(d[0]); })
    .y0(function(d){ return y(d[1]); })
    .y1(function(d){ return y(d[2]); });

var line = d3.line()
    .x(function(d){ return x(d[0]); })
    .y(function(d){ return y(d[1]); });

// spreads under the lines
var bands = [band5m, band55m, band105m, band200m, band300m, bandDeep];
bands.forEach(function(b, i){
    inner.append('path').datum(b).attr('d', area).attr('fill', bandColors[i]);
});

var lines = [line5m, line55m, line105m, line200m, line300m, lineDeep];
lines.forEach(function(l, i){
    inner.append('path').datum(l)
        .attr('d', line)
        .attr('fill', 'none')
        .attr('stroke', lineColors[i])
        .attr('stroke-width', 6)
        .attr('stroke-linejoin', 'round');
});

// axes
function styleAxis(g){
    g.select('.domain').remove();
    g.selectAll('line').attr('stroke', '#000').attr('stroke-width', 3);
    g.selectAll('text').attr('fill', '#000');
    g.attr('font-family', font).attr('font-size', 64);
}

var yMinor = d3.range(16).map(function(i){ return +(-0.9 + i * 0.05).toFixed(2); });
var xMinor = d3.range(53).map(function(i){ return i * 0.5; });

plot.append('g').call(d3.axisLeft(y).tickValues(yMinor).tickSize(19).tickFormat('')).call(styleAxis);
plot.append('g').call(d3.axisLeft(y).tickValues(yMajor).tickSize(37).tickPadding(49)
    .tickFormat(function(d){ return d.toFixed(2); })).call(styleAxis);

var right = plot.append('g').attr('transform', 'translate(' + width + ',0)');
right.append('g').call(d3.axisRight(y).tickValues(yMinor).tickSize(21).tickFormat('')).call(styleAxis);
right.append('g').call(d3.axisRight(y).tickValues(yMajor).tickSize(39).tickFormat('')).call(styleAxis);

var bottom = plot.append('g').attr('transform', 'translate(0,' + height + ')');
bottom.append('g').call(d3.axisBottom(x).tickValues(xMinor).tickSize(19).tickFormat('')).call(styleAxis);
bottom.append('g').call(d3.axisBottom(x).tickValues(xMajor).tickSize(38).tickPadding(50)
    .tickFormat(d3.format('d'))).call(styleAxis);

// frame
plot.append('path')
    .attr('d', 'M0,0V' + height + 'H' + width + 'V0')
    .attr('fill', 'none')
    .attr('stroke', '#000')
    .attr('stroke-width', 3.5);

// top bar
svg.append('rect').attr('x', 0).attr('y', 0).attr('width', totalW).attr('height', margin.t).attr('fill', '#000');

// titles
svg.append('text')
    .attr('x', margin.l + width / 2)
    .attr('y', 1277)
    .attr('text-anchor', 'middle')
    .attr('font-family', font)
    .attr('font-size', 83)
    .text('Time (years since BC injection)');

svg.append('text')
    .attr('transform', 'translate(84,360) rotate(-90)')
    .attr('text-anchor', 'middle')
    .attr('font-family', font)
    .attr('font-size', 83)
    .text('Temperature (K)');

// depth labels
var labelPos = [[22.29, -0.841], [22.29, -0.733], [22.29, -0.624], [22.29, -0.516], [11.87, -0.244]];
depths.forEach(function(d, i){
    plot.append('text')
        .attr('x', x(labelPos[i][0]))
        .attr('y', y(labelPos[i][1]))
        .attr('text-anchor', 'middle')
        .attr('font-family', font)
        .attr('font-size', 90)
        .attr('fill', lineColors[i])
        .text(d);
});
</script>
</body>
</html>
